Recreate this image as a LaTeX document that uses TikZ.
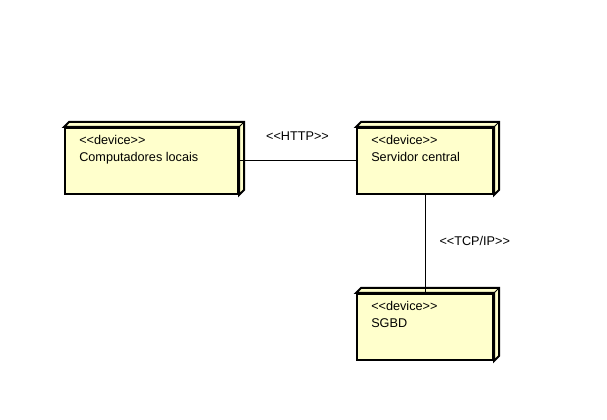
\documentclass[tikz,border=0pt]{standalone}
\usepackage{fontspec}
\setmainfont{Liberation Sans}
\usetikzlibrary{positioning, calc}
\definecolor{devfill}{RGB}{255,255,204}

\begin{document}
\begin{tikzpicture}[x=0.75pt, y=-0.75pt, font=\fontsize{9.5}{12.75}\selectfont,
  device/.style={draw, line width=1.5pt, fill=devfill, minimum height=49.5pt, inner sep=0pt},
  devtext/.style={anchor=north west, align=left, inner sep=0pt},
  link/.style={line width=0.75pt}]
\useasboundingbox (0,0) rectangle (607,420);

% Devices
\node (sc) [device, minimum width=102pt] at (425,161) {};
\node (cl) [device, minimum width=129.75pt, left=87.75pt of sc] {};
\node (db) [device, minimum width=102pt, below=73.5pt of sc] {};

% 3D sides
\foreach \n in {cl,sc,db} {
  \filldraw[fill=devfill, line width=1.5pt, line join=miter]
    (\n.north west) -- ++(5,-5) -- ($(\n.north east)+(5,-5)$)
    -- ($(\n.south east)+(5,-5)$) -- (\n.south east) -- (\n.north east) -- cycle;
  \draw[link] (\n.north east) -- ++(5,-5);
}

% Texts
\node (cltxt) [devtext] at ([shift={(15,8)}]cl.north west) {<{}<device>{}>\\Computadores locais};
\node (sctxt) [devtext] at ([shift={(15,8)}]sc.north west) {<{}<device>{}>\\Servidor central};
\node (dbtxt) [devtext] at ([shift={(15,8)}]db.north west) {<{}<device>{}>\\SGBD};

% Links
\draw[link] (cl) -- node[above=15pt, inner sep=0pt] {<{}<HTTP>{}>} (sc);
\draw[link] (sc) -- node[right=10.5pt, yshift=2.25pt, inner sep=0pt] {<{}<TCP/IP>{}>} (db);
\end{tikzpicture}
\end{document}
